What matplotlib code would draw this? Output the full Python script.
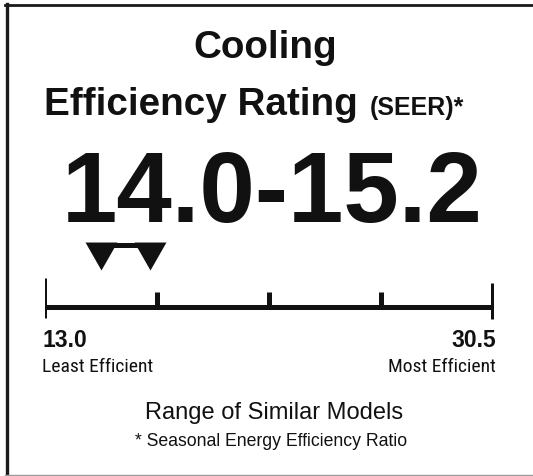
import matplotlib
matplotlib.use('Agg')
import matplotlib.pyplot as plt
from matplotlib.lines import Line2D
from matplotlib import font_manager

# ---- data ----
title_line1 = "Cooling"
title_line2 = "Efficiency Rating"
title_unit = "(SEER)*"
rating_text = "14.0-15.2"
scale_min = 13.0
scale_max = 30.5
scale_ticks = [13.0, 17.375, 21.75, 26.125, 30.5]
marker_values = [15.2, 17.1]   # triangle positions
min_label = "13.0"
max_label = "30.5"
min_caption = "Least Efficient"
max_caption = "Most Efficient"
range_caption = "Range of Similar Models"
footnote = "* Seasonal Energy Efficiency Ratio"

# ---- figure ----
W, H = 533, 476
fig = plt.figure(figsize=(W / 100, H / 100), dpi=100)
fig.patch.set_facecolor('white')
INK = '#111111'
BOLD = dict(family=['Liberation Sans', 'DejaVu Sans'], weight='bold', color=INK)
REGULAR = dict(family=['Liberation Sans', 'DejaVu Sans'], color=INK)

installed = {f.name for f in font_manager.fontManager.ttflist}
narrow_candidates = ['Liberation Sans Narrow', 'Roboto Condensed', 'Open Sans Condensed',
                     'DejaVu Sans Condensed', 'Noto Sans Condensed']
narrow = [n for n in narrow_candidates if n in installed]
NARROW = dict(family=narrow + ['Liberation Sans', 'DejaVu Sans'], color=INK)
small_scale = 1.0 if narrow else 0.85


def fx(px):
    return px / W


def fy(py):
    return 1 - py / H


# frame
fig.add_artist(Line2D([fx(6.5), fx(6.5)], [fy(3.5), fy(475)], color='#1a1a1a', lw=2.4))
fig.add_artist(Line2D([fx(5.3), fx(533)], [fy(5), fy(5)], color='#1a1a1a', lw=2.0))
fig.add_artist(Line2D([fx(5.3), fx(533)], [fy(474.5), fy(474.5)], color='#9a9a9a', lw=1.0))

# titles
fig.text(fx(265), fy(58), title_line1, ha='center', va='baseline', fontsize=27.8, **BOLD)
fig.text(fx(44), fy(115), title_line2, ha='left', va='baseline', fontsize=27.8, **BOLD)
fig.text(fx(370), fy(115), title_unit, ha='left', va='baseline', fontsize=18, **BOLD)
fig.text(fx(272), fy(222), rating_text, ha='center', va='baseline', fontsize=71.7, **BOLD)

# scale
ax = fig.add_axes([fx(44.5), 0, (493.5 - 44.5) / W, 1])
ax.set_xlim(scale_min, scale_max)
ax.set_ylim(H, 0)
ax.axis('off')
lw = 3.6
ax.plot([scale_min, scale_max], [307, 307], color=INK, lw=lw, solid_capstyle='butt')
ax.vlines([scale_ticks[0]], 278, 318, color=INK, lw=lw)
ax.vlines([scale_ticks[-1]], 283, 319, color=INK, lw=lw)
ax.vlines(scale_ticks[1:-1], 292, 307, color=INK, lw=lw)

# range markers
ax.plot(marker_values, [244.5, 244.5], color=INK, lw=lw, solid_capstyle='butt')
tri = [(-1, 0.875), (1, 0.875), (0, -0.875), (-1, 0.875)]
ax.plot(marker_values, [256, 256], linestyle='none', marker=tri,
        markersize=23, color=INK, markeredgewidth=0)

# scale labels
fig.text(fx(42), fy(347), min_label, ha='left', va='baseline', fontsize=16.5, **BOLD)
fig.text(fx(496), fy(347), max_label, ha='right', va='baseline', fontsize=16.5, **BOLD)
fig.text(fx(42), fy(372), min_caption, ha='left', va='baseline', fontsize=14 * small_scale, **NARROW)
fig.text(fx(496), fy(372), max_caption, ha='right', va='baseline', fontsize=14 * small_scale, **NARROW)
fig.text(fx(274), fy(419), range_caption, ha='center', va='baseline', fontsize=17, **REGULAR)
fig.text(fx(271), fy(446), footnote, ha='center', va='baseline', fontsize=12.7, **REGULAR)

fig.savefig('out.png', dpi=100, facecolor='white')
